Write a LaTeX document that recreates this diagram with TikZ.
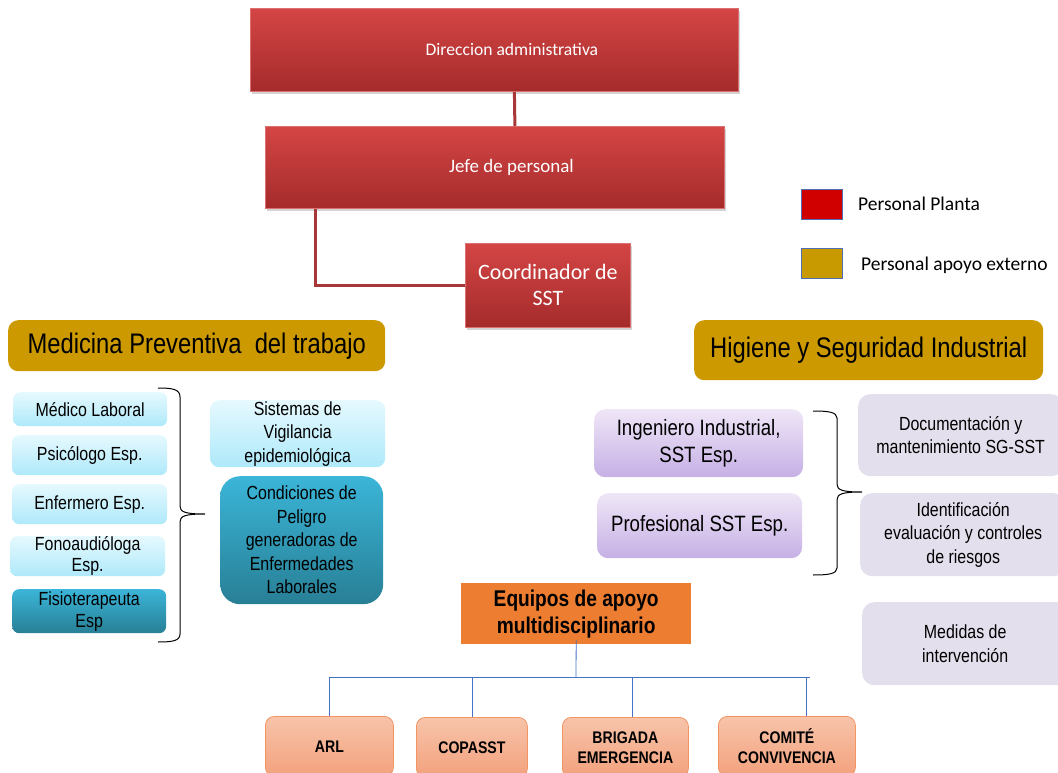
\documentclass[tikz,border=0pt]{standalone}
\usepackage{fontspec}
\setmainfont{Carlito}
\newfontfamily\nar[FakeStretch=0.84]{Liberation Sans}
\usetikzlibrary{shadows}
\definecolor{redtop}{HTML}{D44545}
\definecolor{redbot}{HTML}{A52B2B}
\definecolor{redline}{HTML}{DC7070}
\definecolor{goldc}{HTML}{CC9900}
\definecolor{lbtop}{HTML}{E6F9FE}
\definecolor{lbbot}{HTML}{AEE9FA}
\definecolor{tltop}{HTML}{3BB5D8}
\definecolor{tlbot}{HTML}{287F95}
\definecolor{lvtop}{HTML}{EFE6F7}
\definecolor{lvbot}{HTML}{C6B0E5}
\definecolor{grayl}{HTML}{E4DFEC}
\definecolor{orangec}{HTML}{ED7D31}
\definecolor{satop}{HTML}{F7C4AA}
\definecolor{sabot}{HTML}{F3A17D}
\definecolor{saline}{HTML}{F29463}
\definecolor{legred}{HTML}{D00000}
\definecolor{leggold}{HTML}{C99A00}
\definecolor{legline}{HTML}{4F6FB0}
\definecolor{bluec}{HTML}{4472C4}
\definecolor{conred}{HTML}{A83838}
\tikzset{
  base/.style={anchor=north west, inner sep=0pt, align=flush center},
  redbox/.style={base, text=white, top color=redtop, bottom color=redbot, draw=redline, line width=0.8pt,
     drop shadow={shadow xshift=2pt, shadow yshift=-2.5pt, opacity=0.35}},
  goldbox/.style={base, fill=goldc, rounded corners=10pt, font=\nar\fontsize{28.3}{32}\selectfont},
  lbbox/.style={base, top color=lbtop, bottom color=lbbot, rounded corners=7pt, font=\nar\fontsize{19}{23.5}\selectfont},
  tlbox/.style={base, top color=tltop, bottom color=tlbot, rounded corners=7pt, font=\nar\fontsize{19}{23.5}\selectfont},
  lvbox/.style={base, top color=lvtop, bottom color=lvbot, rounded corners=11pt, font=\nar\fontsize{22.2}{27}\selectfont},
  gybox/.style={base, fill=grayl, rounded corners=12pt, font=\nar\fontsize{19}{23.5}\selectfont},
  sabox/.style={base, top color=satop, bottom color=sabot, draw=saline, line width=0.8pt, rounded corners=9pt,
     font=\nar\bfseries\fontsize{16.8}{20}\selectfont},
  legbox/.style={base, draw=legline, line width=0.8pt, text width=41pt, minimum height=30pt},
  legtext/.style={anchor=west, inner sep=0pt, font=\fontsize{19.5}{22}\selectfont},
  redcon/.style={draw=conred, line width=3pt},
  bluecon/.style={draw=bluec, line width=0.8pt},
  brace/.style={draw=black, line width=1pt}
}
\begin{document}
\begin{tikzpicture}[x=1pt,y=-1pt]
\useasboundingbox (0,0) rectangle (1058,773);
\clip (0,0) rectangle (1058,773);

\node[redbox, text width=488pt, minimum height=83pt, font=\fontsize{17.6}{21}\selectfont] (dir) at (250,8) {\hspace*{35pt}Direccion administrativa};
\node[redbox, text width=459pt, minimum height=82pt, font=\fontsize{19}{22}\selectfont] (jefe) at (265,126) {\hspace*{33pt}Jefe de personal};
\node[redbox, text width=165pt, minimum height=84pt, font=\fontsize{22}{26}\selectfont] (coord) at (465,243) {Coordinador de\\SST};
\draw[redcon] ([xshift=20pt]dir.south) -- ([xshift=20pt]jefe.north);
\draw[redcon] ([xshift=50pt]jefe.south west) |- (coord.west);

% legend
\node[legbox, fill=legred] (lp) at (801,189) {};
\node[legtext] (lpt) at (858,204) {Personal Planta};
\node[legbox, fill=leggold] (lg) at (801,248) {};
\node[legtext] (lgt) at (861,265) {Personal apoyo externo};

% group headers
\node[goldbox, text width=377pt, minimum height=51pt] (med) at (8,320) {Medicina Preventiva\ \ del trabajo};
\node[goldbox, text width=349pt, minimum height=60pt] (hig) at (694,320) {Higiene y Seguridad Industrial};

% left list
\node[lbbox, text width=154pt, minimum height=34pt] (ml) at (13,392) {Médico Laboral};
\node[lbbox, text width=155pt, minimum height=40pt] (ps) at (12,435) {Psicólogo Esp.};
\node[lbbox, text width=155pt, minimum height=40pt] (en) at (12,484) {Enfermero Esp.};
\node[lbbox, text width=155pt, minimum height=40pt, font=\nar\fontsize{19}{21}\selectfont] (fo) at (10,536) {Fonoaudióloga\\Esp.};
\node[tlbox, text width=154pt, minimum height=44pt, font=\nar\fontsize{19}{22}\selectfont] (fi) at (12,589) {Fisioterapeuta\\Esp};
\node[lbbox, text width=175pt, minimum height=67pt, rounded corners=9pt] (sv) at (210,400) {Sistemas de\\Vigilancia\\epidemiológica};
\node[tlbox, text width=163pt, minimum height=128pt, rounded corners=20pt] (cp) at (220,476) {Condiciones de\\Peligro\\generadoras de\\Enfermedades\\Laborales};

\draw[brace] (158,388) .. controls (172,388) and (180,389) .. (180,397) -- (180,506)
   .. controls (180,512) and (185,514) .. (205,514)
   .. controls (185,514) and (180,516) .. (180,522) -- (180,634)
   .. controls (180,641) and (172,642) .. (158,642);

% right list
\node[lvbox, text width=209pt, minimum height=68pt] (ii) at (594,409) {Ingeniero Industrial,\\SST Esp.};
\node[lvbox, text width=205pt, minimum height=65pt] (pf) at (597,493) {Profesional SST Esp.};
\node[gybox, text width=205pt, minimum height=82pt] (dm) at (858,394) {Documentación y\\mantenimiento SG-SST};
\node[gybox, text width=206pt, minimum height=83pt] (id) at (860,493) {Identificación\\evaluación y controles\\de riesgos};
\node[gybox, text width=206pt, minimum height=83pt] (mi) at (862,602) {Medidas de\\intervención};

\draw[brace] (813,411) .. controls (828,411) and (837,412) .. (837,418) -- (837,484)
   .. controls (837,490) and (842,492) .. (862,492)
   .. controls (842,492) and (837,494) .. (837,500) -- (837,568)
   .. controls (837,574) and (828,575) .. (813,575);

% support teams
\node[base, fill=orangec, text width=230pt, minimum height=61pt, font=\nar\bfseries\fontsize{22.8}{27}\selectfont] (eq) at (461,583) {Equipos de apoyo\\multidisciplinario};
\node[sabox, text width=128pt, minimum height=60pt] (arl) at (265,716) {ARL};
\node[sabox, text width=111pt, minimum height=60pt] (cop) at (416,717) {COPASST};
\node[sabox, text width=126pt, minimum height=60pt] (bri) at (562,717) {BRIGADA\\EMERGENCIA};
\node[sabox, text width=137pt, minimum height=60pt] (com) at (718,716) {COMITÉ\\CONVIVENCIA};

\coordinate (bus) at (576,677);
\coordinate (busr) at (810,677);
\draw[bluecon] ([yshift=4pt]eq.south) -- (bus);
\draw[bluecon] (arl.north |- bus) -- (busr);
\draw[bluecon] (arl.north |- bus) -- (arl.north);
\draw[bluecon] (cop.north |- bus) -- (cop.north);
\draw[bluecon] ([xshift=7pt]bri.north |- bus) -- ([xshift=7pt]bri.north);
\draw[bluecon] ([xshift=19pt]com.north |- bus) -- ([xshift=19pt]com.north);
\end{tikzpicture}
\end{document}
